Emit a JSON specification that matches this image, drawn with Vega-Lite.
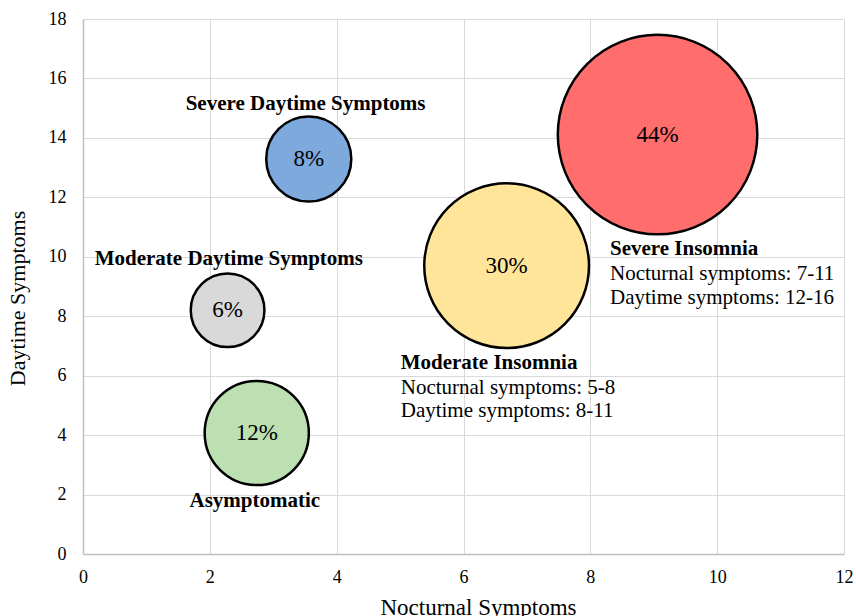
{
  "$schema": "https://vega.github.io/schema/vega-lite/v6.json",
  "autosize": "none",
  "width": 761,
  "height": 535,
  "padding": {"left": 83, "top": 19, "right": 12, "bottom": 62},
  "background": "white",
  "config": {
    "font": "Liberation Serif",
    "view": {"stroke": null}
  },
  "datasets": {
    "bubbles": [
      {"group": "Severe Insomnia", "nocturnal": 9.06, "daytime": 14.11, "pct": 44, "label": "44%"},
      {"group": "Moderate Insomnia", "nocturnal": 6.68, "daytime": 9.70, "pct": 30, "label": "30%"},
      {"group": "Severe Daytime Symptoms", "nocturnal": 3.56, "daytime": 13.29, "pct": 8, "label": "8%"},
      {"group": "Moderate Daytime Symptoms", "nocturnal": 2.28, "daytime": 8.20, "pct": 6, "label": "6%"},
      {"group": "Asymptomatic", "nocturnal": 2.74, "daytime": 4.07, "pct": 12, "label": "12%"}
    ],
    "titles": [
      {"text": "Severe Daytime Symptoms", "nocturnal": 3.51, "daytime": 14.93, "anchor": "center"},
      {"text": "Moderate Daytime Symptoms", "nocturnal": 2.30, "daytime": 9.72, "anchor": "center"},
      {"text": "Asymptomatic", "nocturnal": 2.71, "daytime": 1.58, "anchor": "center"},
      {"text": "Severe Insomnia", "nocturnal": 8.31, "daytime": 10.05, "anchor": "left"},
      {"text": "Moderate Insomnia", "nocturnal": 5.01, "daytime": 6.24, "anchor": "left"}
    ],
    "notes": [
      {"text": "Nocturnal symptoms: 7-11", "nocturnal": 8.31, "daytime": 9.21},
      {"text": "Daytime symptoms: 12-16", "nocturnal": 8.31, "daytime": 8.41},
      {"text": "Nocturnal symptoms: 5-8", "nocturnal": 5.01, "daytime": 5.40},
      {"text": "Daytime symptoms: 8-11", "nocturnal": 5.01, "daytime": 4.60}
    ]
  },
  "encoding": {
    "x": {
      "field": "nocturnal", "type": "quantitative",
      "scale": {"domain": [0, 12], "nice": false},
      "axis": {
        "title": "Nocturnal Symptoms",
        "values": [0, 2, 4, 6, 8, 10, 12],
        "grid": true, "gridColor": "#d9d9d9", "gridWidth": 1,
        "domainColor": "#bfbfbf", "domainWidth": 1.5,
        "ticks": false, "labelFlush": false, "labelOverlap": false,
        "labelFontSize": 18, "labelColor": "#000000", "labelPadding": 14,
        "titleFontSize": 23, "titleFontWeight": "normal", "titleColor": "#000000",
        "titleX": 395, "titleY": 60, "titleBaseline": "alphabetic"
      }
    },
    "y": {
      "field": "daytime", "type": "quantitative",
      "scale": {"domain": [0, 18], "nice": false},
      "axis": {
        "title": "Daytime Symptoms",
        "values": [0, 2, 4, 6, 8, 10, 12, 14, 16, 18],
        "grid": true, "gridColor": "#d9d9d9", "gridWidth": 1,
        "domainColor": "#bfbfbf", "domainWidth": 1.5,
        "ticks": false, "labelFlush": false, "labelOverlap": false,
        "labelFontSize": 18, "labelColor": "#000000", "labelPadding": 17,
        "titleFontSize": 22, "titleFontWeight": "normal", "titleColor": "#000000",
        "titleX": -66, "titleY": 279, "titleBaseline": "middle", "titleAngle": -90
      }
    }
  },
  "layer": [
    {
      "data": {"name": "bubbles"},
      "mark": {"type": "point", "shape": "circle", "filled": true, "opacity": 1, "stroke": "#000000", "strokeWidth": 2.5},
      "encoding": {
        "size": {"field": "pct", "type": "quantitative", "scale": {"type": "linear", "domain": [0, 44], "range": [0, 39800], "zero": true}, "legend": null},
        "color": {"field": "group", "type": "nominal",
          "scale": {"domain": ["Severe Insomnia", "Moderate Insomnia", "Severe Daytime Symptoms", "Moderate Daytime Symptoms", "Asymptomatic"],
                    "range": ["#ff6d6d", "#ffe599", "#7ea9dc", "#d9d9d9", "#bce0b2"]},
          "legend": null}
      }
    },
    {
      "data": {"name": "bubbles"},
      "mark": {"type": "text", "fontSize": 23, "align": "center", "baseline": "middle", "color": "#000000"},
      "encoding": {"text": {"field": "label"}}
    },
    {
      "data": {"name": "titles"},
      "transform": [{"filter": "datum.anchor === 'center'"}],
      "mark": {"type": "text", "fontSize": 21, "fontWeight": "bold", "align": "center", "baseline": "alphabetic", "color": "#000000"},
      "encoding": {"text": {"field": "text"}}
    },
    {
      "data": {"name": "titles"},
      "transform": [{"filter": "datum.anchor === 'left'"}],
      "mark": {"type": "text", "fontSize": 21, "fontWeight": "bold", "align": "left", "baseline": "alphabetic", "color": "#000000"},
      "encoding": {"text": {"field": "text"}}
    },
    {
      "data": {"name": "notes"},
      "mark": {"type": "text", "fontSize": 21, "align": "left", "baseline": "alphabetic", "color": "#000000"},
      "encoding": {"text": {"field": "text"}}
    }
  ]
}
